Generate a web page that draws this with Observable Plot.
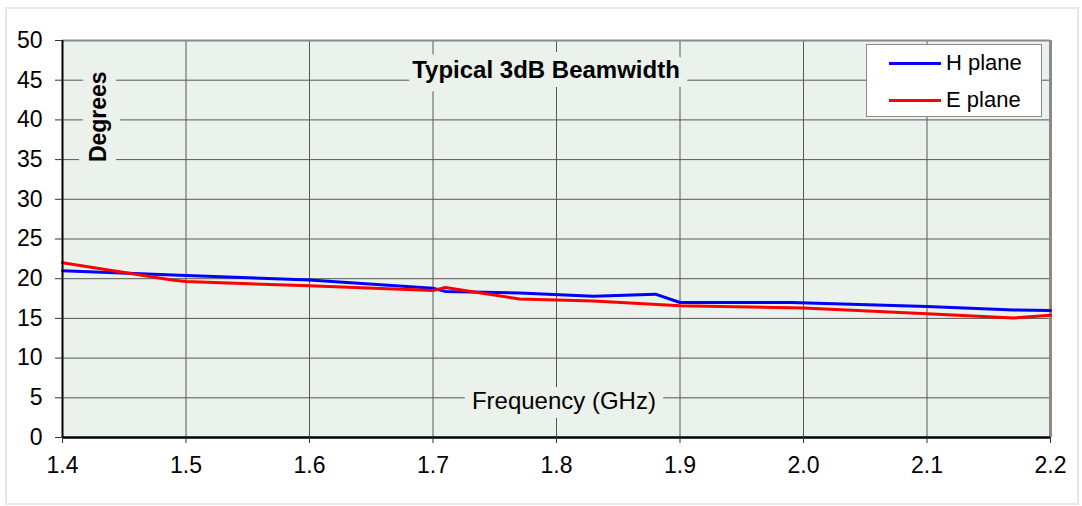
<!DOCTYPE html>
<html>
<head>
<meta charset="utf-8">
<script src="https://cdn.jsdelivr.net/npm/d3@7"></script>
<script src="https://cdn.jsdelivr.net/npm/@observablehq/plot@0.6"></script>
<style>
  body { margin: 0; background: #fff; }
  #wrap { position: relative; width: 1082px; height: 506px; font-family: "Liberation Sans", Arial, sans-serif; }
  #border { position: absolute; left: 5px; top: 7px; width: 1070px; height: 494px; border: 2px solid #e4e9e4; pointer-events: none; }
  #legend { position: absolute; left: 866px; top: 44px; width: 174px; height: 71px; background: #fff; border: 1px solid #8a8a8a; }
  .item { position: absolute; left: 0; height: 24px; display: flex; align-items: center; font-size: 22px; color: #000; }
  .swatch { width: 52px; height: 3px; margin-left: 22px; margin-right: 5px; }
</style>
</head>
<body>
<div id="wrap">
  <div id="chart"></div>
  <div id="border"></div>
  <div id="legend"></div>
</div>
<script>
const hFreq = [1.4, 1.5, 1.6, 1.7, 1.71, 1.77, 1.83, 1.88, 1.9, 1.99, 2.1, 2.17, 2.2];
const hValues = [21.0, 20.4, 19.85, 18.8, 18.4, 18.2, 17.8, 18.05, 17.0, 17.0, 16.5, 16.05, 16.0];
const eFreq = [1.4, 1.49, 1.5, 1.6, 1.7, 1.71, 1.77, 1.83, 1.9, 2.0, 2.1, 2.17, 2.2];
const eValues = [22.0, 19.8, 19.65, 19.1, 18.5, 18.9, 17.45, 17.2, 16.6, 16.3, 15.6, 15.05, 15.4];
const xTicks = [1.4, 1.5, 1.6, 1.7, 1.8, 1.9, 2.0, 2.1, 2.2];
const yTicks = [0, 5, 10, 15, 20, 25, 30, 35, 40, 45, 50];
const seriesNames = ["H plane", "E plane"];
const seriesColors = ["#0000ff", "#ff0000"];

const hData = hFreq.map((f, i) => ({f, v: hValues[i]}));
const eData = eFreq.map((f, i) => ({f, v: eValues[i]}));

const bg = "#ebf1eb";
const grid = "#585858";

const chart = Plot.plot({
  width: 1082,
  height: 506,
  marginLeft: 62,
  marginRight: 32,
  marginTop: 40,
  marginBottom: 69,
  style: {fontFamily: "'Liberation Sans', Arial, sans-serif", background: "transparent", overflow: "visible"},
  x: {domain: [1.4, 2.2]},
  y: {domain: [0, 50]},
  marks: [
    Plot.frame({fill: bg, stroke: null}),
    Plot.gridY(yTicks, {stroke: grid, strokeOpacity: 1, strokeWidth: 1}),
    Plot.gridX(xTicks, {stroke: grid, strokeOpacity: 1, strokeWidth: 1}),
    Plot.text(["Typical 3dB Beamwidth"], {x: () => 1.7915, y: () => 46.2, text: d => d, fontSize: 24, fontWeight: "bold", fill: "#000", stroke: bg, strokeWidth: 18, strokeLinejoin: "round", textAnchor: "middle", lineAnchor: "middle"}),
    Plot.text(["Degrees"], {x: () => 1.4295, y: () => 40.4, text: d => d, fontSize: 23, fontWeight: "bold", rotate: -90, fill: "#000", stroke: bg, strokeWidth: 20, strokeLinejoin: "round", textAnchor: "middle", lineAnchor: "middle"}),
    Plot.text(["Frequency (GHz)"], {x: () => 1.806, y: () => 4.55, text: d => d, fontSize: 24, fill: "#000", stroke: bg, strokeWidth: 18, strokeLinejoin: "round", textAnchor: "middle", lineAnchor: "middle"}),
    Plot.ruleY([50], {stroke: "#8a8a8a", strokeWidth: 2}),
    Plot.ruleX([2.2], {stroke: "#8a8a8a", strokeWidth: 3}),
    Plot.line(hData, {x: "f", y: "v", stroke: seriesColors[0], strokeWidth: 3}),
    Plot.line(eData, {x: "f", y: "v", stroke: seriesColors[1], strokeWidth: 3}),
    Plot.ruleX([1.4], {stroke: "#000", strokeWidth: 2}),
    Plot.ruleY([0], {stroke: "#000", strokeWidth: 2.5}),
    Plot.axisY({ticks: yTicks, tickSize: 7, tickPadding: 13, fontSize: 23, stroke: "#333", color: "#000", label: null}),
    Plot.axisX({ticks: xTicks, tickSize: 6, tickPadding: 13, fontSize: 23, stroke: "#333", color: "#000", tickFormat: d3.format(".1f"), label: null})
  ]
});
document.getElementById("chart").appendChild(chart);

const legend = document.getElementById("legend");
seriesNames.forEach((name, i) => {
  const item = document.createElement("div");
  item.className = "item";
  item.style.top = (i === 0 ? 6 : 43) + "px";
  const sw = document.createElement("div");
  sw.className = "swatch";
  sw.style.background = seriesColors[i];
  item.appendChild(sw);
  const label = document.createElement("span");
  label.textContent = name;
  item.appendChild(label);
  legend.appendChild(item);
});
</script>
</body>
</html>
